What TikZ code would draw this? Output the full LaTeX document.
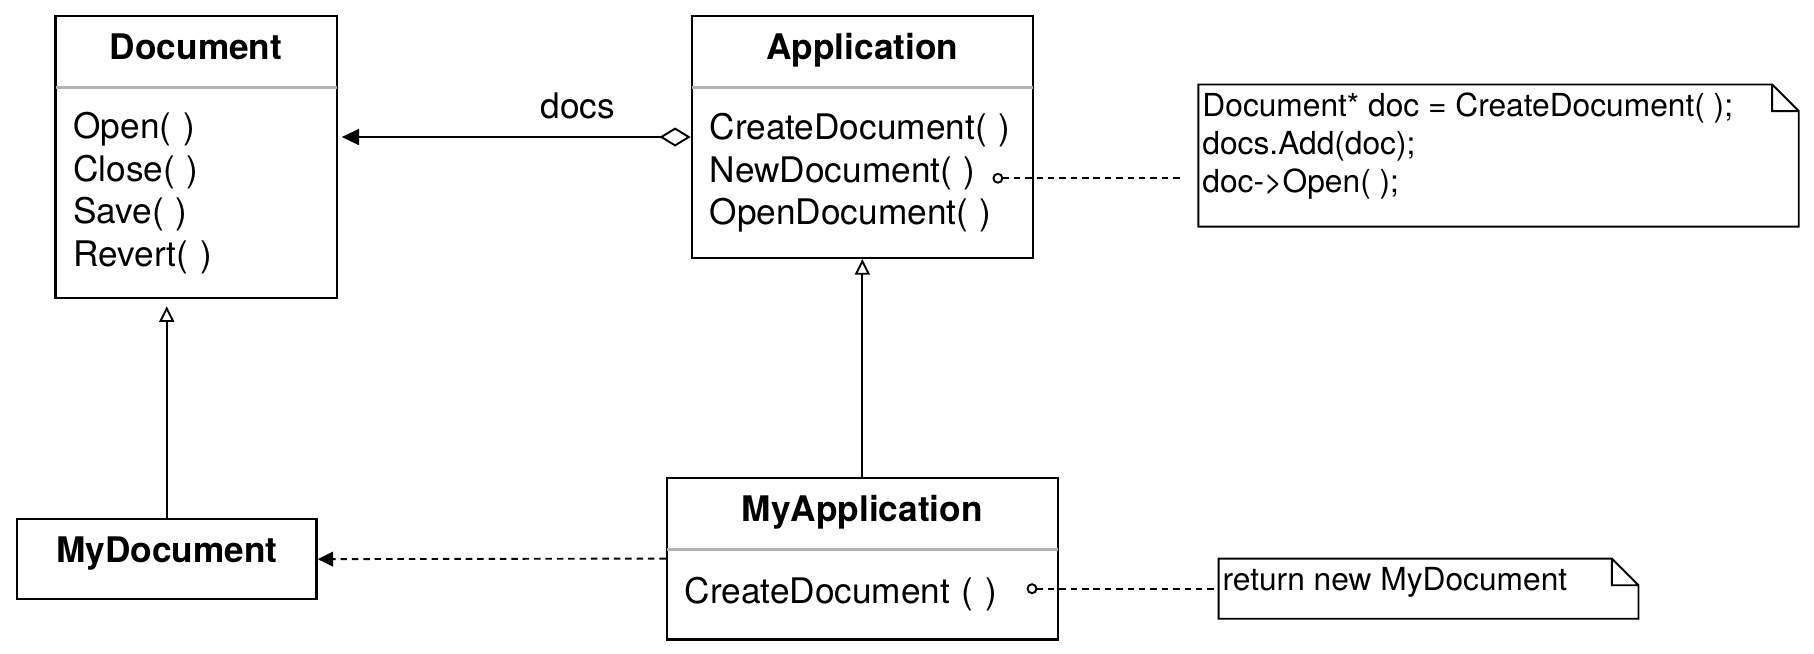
\documentclass[tikz,border=0pt]{standalone}
\usepackage{fontspec}
\setmainfont{TeX Gyre Heros}
\usetikzlibrary{positioning, arrows.meta, fit}

\begin{document}
\begin{tikzpicture}[
        font=\fontsize{13}{15.7}\selectfont,
        head/.style = {inner sep=0pt, text height=0.555cm, text depth=0.36cm, font=\fontsize{13}{15.7}\selectfont\bfseries},
        body/.style = {inner xsep=0.225cm, inner ysep=0pt, align=left},
        box/.style = {draw, black, line width=0.8pt, inner sep=0pt},
        sepline/.style = {black!30, line width=1.2pt},
        note/.style = {inner sep=0pt},
        notetext/.style = {font=\fontsize{11.7}{14}\selectfont, align=left, inner xsep=1.3pt, inner ysep=3pt, anchor=north west},
        notefold/.style = {draw, black, line width=0.7pt, line join=miter},
        agg/.style = {line width=0.7pt, {Diamond[open, length=11.5pt, width=7pt]}-{Triangle[length=6.4pt, width=5.9pt]}, shorten >=1.5pt},
        inherit/.style = {line width=0.7pt, -{Triangle[open, length=5.8pt, width=5.5pt]}},
        dep/.style = {line width=0.7pt, dash pattern=on 2.4pt off 1.8pt, -{Triangle[length=5.7pt, width=5.4pt]}},
        comment/.style = {line width=0.7pt, dash pattern=on 2.4pt off 1.8pt, {Circle[open, length=4pt]}-}
    ]

        \useasboundingbox (0,0) rectangle (23.52,8.475);

        % Document
        \node[head, minimum width=3.63cm, anchor=north west] (dochead) at (0.72,8.265) {Document};
        \node[body, text width=3.18cm, minimum height=2.715cm, below=0pt of dochead] (docbody) {Open( )\\Close( )\\Save( )\\Revert( )};
        \node[box, fit=(dochead)(docbody)] (doc) {};
        \draw[sepline] (dochead.south west) -- (dochead.south east);

        % Application
        \node[head, minimum width=4.41cm, right=4.605cm of dochead] (apphead) {Application};
        \node[body, text width=3.96cm, minimum height=2.19cm, below=0pt of apphead] (appbody) {CreateDocument( )\\NewDocument( )\\OpenDocument( )};
        \node[box, fit=(apphead)(appbody)] (app) {};
        \draw[sepline] (apphead.south west) -- (apphead.south east);

        % MyApplication
        \node[head, minimum width=5.055cm, below=2.85cm of appbody] (myapphead) {MyApplication};
        \node[body, text width=4.605cm, minimum height=1.155cm, below=0pt of myapphead] (myappbody) {CreateDocument ( )};
        \node[box, fit=(myapphead)(myappbody)] (myapp) {};
        \draw[sepline] (myapphead.south west) -- (myapphead.south east);

        % MyDocument
        \node[head, box, minimum width=3.885cm, text depth=0.48cm, below=2.85cm of docbody, xshift=-0.38cm] (mydoc) {MyDocument};

        % notes
        \coordinate (newhook) at ([xshift=-0.525cm, yshift=-0.07cm]appbody.east);
        \coordinate (createhook) at ([xshift=-0.405cm, yshift=0.074cm]myappbody.east);

        \node[note, minimum width=7.77cm, minimum height=1.83cm, anchor=north west] (note1) at ([xshift=2.145cm, yshift=-0.885cm]apphead.north east) {};
        \node[note, minimum width=5.43cm, minimum height=0.765cm, right=2.49cm of createhook] (note2) {};
        \node[notetext] (note1text) at (note1.north west) {Document* doc = CreateDocument( );\\docs.Add(doc);\\doc->Open( );};
        \node[notetext] (note2text) at (note2.north west) {return new MyDocument};

        \foreach \n in {note1, note2}
            \draw[notefold] (\n.north west) -- ([xshift=-0.345cm]\n.north east) -- ([yshift=-0.345cm]\n.north east) -- (\n.south east) -- (\n.south west) -- cycle
                ([xshift=-0.345cm]\n.north east) |- ([yshift=-0.345cm]\n.north east);

        \draw[agg] (app.west) -- node[above=0.1cm, pos=0.32] (docslabel) {docs} (app.west -| doc.east);
        \draw[inherit, shorten >=2.5pt] (mydoc.north) -- (mydoc.north |- doc.south);
        \draw[inherit] (myapp.north) -- (myapp.north |- app.south);
        \draw[dep] (myapp.west) -- (mydoc.east);
        \draw[comment] (newhook) -- ([xshift=-0.245cm]newhook -| note1.west);
        \draw[comment] (createhook) -- (note2);

    \end{tikzpicture}
\end{document}
